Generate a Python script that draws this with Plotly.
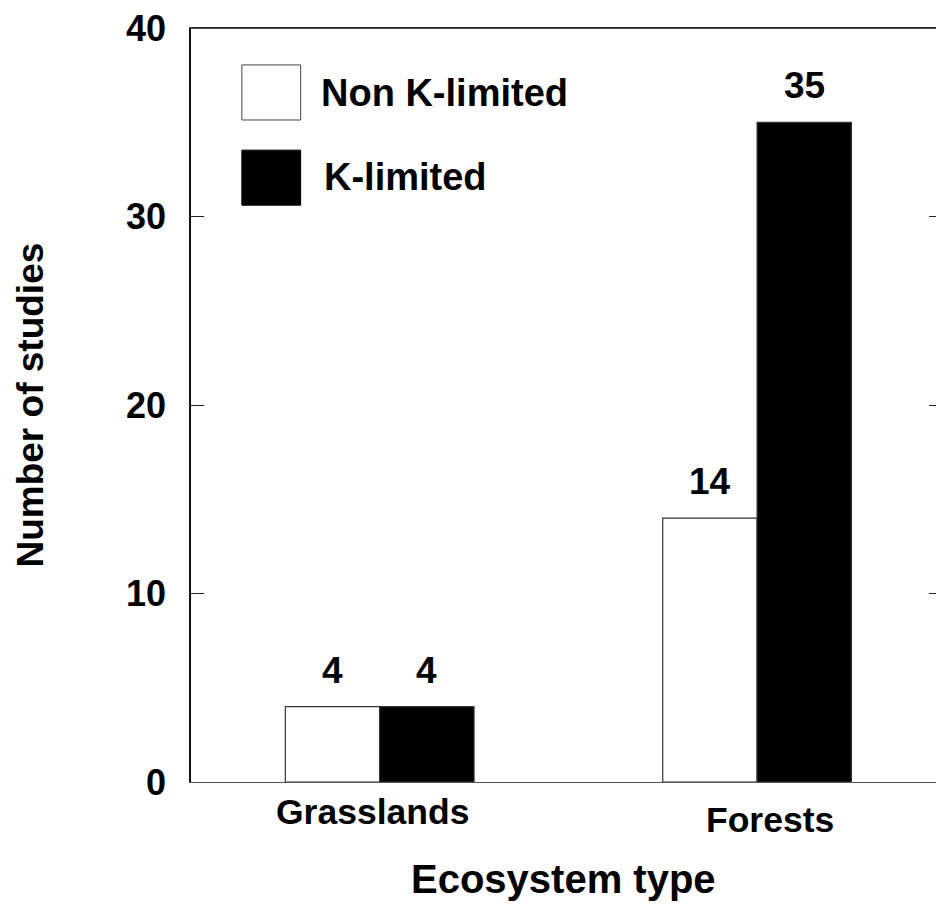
import plotly.graph_objects as go

categories = ["Grasslands", "Forests"]
non_k_limited = [4, 14]
k_limited = [4, 35]
series_names = ["Non K-limited", "K-limited"]
y_ticks = [0, 10, 20, 30, 40]

FONT = "Liberation Sans, Arial, sans-serif"
x_pos = list(range(len(categories)))

fig = go.Figure()
fig.add_trace(go.Bar(x=x_pos, y=non_k_limited, name=series_names[0],
                     marker=dict(color="white", line=dict(color="#333", width=1.2)),
                     showlegend=False))
fig.add_trace(go.Bar(x=x_pos, y=k_limited, name=series_names[1],
                     marker=dict(color="black", line=dict(color="#333", width=1.2)),
                     showlegend=False))

bar_w = 0.25
ann = []
for i, (a, b) in enumerate(zip(non_k_limited, k_limited)):
    for off, v in ((-bar_w / 2, a), (bar_w / 2, b)):
        ann.append(dict(x=i + off, y=v, xref="x", yref="y", text=f"<b>{v}</b>",
                        showarrow=False, yanchor="bottom", yshift=14,
                        font=dict(family=FONT, size=37, color="black")))

# category labels
cat_shift = [-7, 13]
cat_y = [-0.04, -0.05]
for i, c in enumerate(categories):
    ann.append(dict(x=i, y=cat_y[i], xref="x", yref="paper", text=f"<b>{c}</b>",
                    showarrow=False, yanchor="middle", xshift=cat_shift[i],
                    font=dict(family=FONT, size=35.5, color="black")))

# axis titles
ann.append(dict(x=0.496, xref="paper", y=-0.128, yref="paper", text="<b>Ecosystem type</b>",
                showarrow=False, yanchor="middle",
                font=dict(family=FONT, size=40, color="black")))
ann.append(dict(x=-0.215, xref="paper", y=0.5, yref="paper", text="<b>Number of studies</b>",
                showarrow=False, textangle=-90, xanchor="center",
                font=dict(family=FONT, size=37, color="black")))

# legend drawn manually
shapes = [
    dict(type="rect", xref="paper", yref="paper", x0=0.0677, x1=0.146, y0=0.878, y1=0.951,
         fillcolor="white", line=dict(color="#444", width=1)),
    dict(type="rect", xref="paper", yref="paper", x0=0.0677, x1=0.146, y0=0.765, y1=0.838,
         fillcolor="black", line=dict(color="black", width=1)),
    # top frame line
    dict(type="line", xref="paper", yref="paper", x0=0, x1=1, y0=1, y1=1,
         line=dict(color="#111", width=1.5), layer="above"),
]
ann.append(dict(x=0.17, y=0.914, xref="paper", yref="paper", text=f"<b>{series_names[0]}</b>",
                showarrow=False, xanchor="left", yanchor="middle",
                font=dict(family=FONT, size=38, color="black")))
ann.append(dict(x=0.174, y=0.802, xref="paper", yref="paper", text=f"<b>{series_names[1]}</b>",
                showarrow=False, xanchor="left", yanchor="middle",
                font=dict(family=FONT, size=38, color="black")))

fig.update_layout(
    width=936, height=911,
    margin=dict(l=183, r=0, t=20, b=137),
    paper_bgcolor="white", plot_bgcolor="white",
    barmode="group", bargap=0.5, bargroupgap=0,
    annotations=ann, shapes=shapes,
    font=dict(family=FONT, color="black"),
)
fig.update_xaxes(range=[-0.5, 1.49], showticklabels=False, ticks="", showgrid=False,
                 zeroline=False, showline=True, linecolor="#555", linewidth=1.2, mirror=True)
fig.update_yaxes(range=[0, 40], tickvals=y_ticks, ticks="inside", ticklen=13, tickwidth=1.2,
                 tickcolor="#222", showgrid=False, zeroline=False, showline=True,
                 linecolor="#111", linewidth=1.5, mirror="ticks", ticklabelstandoff=16,
                 ticklabeloverflow="allow",
                 tickfont=dict(family=FONT, size=36, color="black", weight="bold"))

fig.write_html("out.html")
